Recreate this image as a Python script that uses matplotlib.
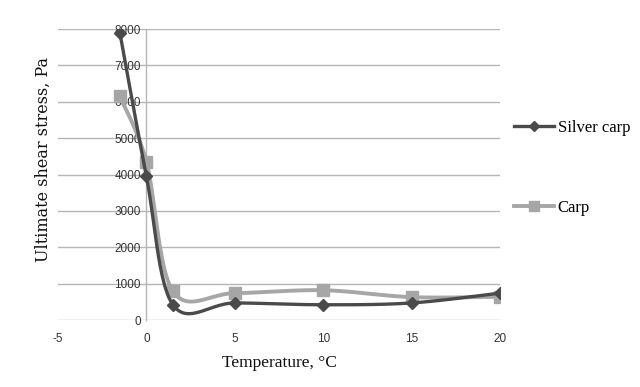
import matplotlib
matplotlib.use('Agg')

import matplotlib.pyplot as plt
import numpy as np

# data
temps_silver = [-1.5, 0, 1.5, 5, 10, 15, 20]
silver_carp = [7900, 3950, 420, 470, 420, 470, 740]

temps_carp = [-1.5, 0, 1.5, 5, 10, 15, 20]
carp = [6150, 4350, 790, 740, 820, 630, 640]

yticks = [0, 1000, 2000, 3000, 4000, 5000, 6000, 7000, 8000]
xticks = [-5, 0, 5, 10, 15, 20]


def smooth(xs, ys, n=30):
    # Excel style smoothed line (bezier through the points)
    p = np.column_stack([xs, ys]).astype(float)
    p = np.vstack([p[0], p, p[-1]])
    out = []
    for i in range(1, len(p) - 2):
        p0, p1, p2, p3 = p[i - 1], p[i], p[i + 1], p[i + 2]
        c1 = p1 + (p2 - p0) / 6
        c2 = p2 - (p3 - p1) / 6
        t = np.linspace(0, 1, n)[:, None]
        seg = (1 - t) ** 3 * p1 + 3 * (1 - t) ** 2 * t * c1 + 3 * (1 - t) * t ** 2 * c2 + t ** 3 * p2
        out.append(seg if i == 1 else seg[1:])
    out = np.vstack(out)
    return out[:, 0], out[:, 1]


serif = ['Liberation Serif', 'DejaVu Serif']
tickfont = ['Liberation Sans Narrow', 'Liberation Sans', 'DejaVu Sans']

fig = plt.figure(figsize=(6.4, 3.87), dpi=100)
ax = fig.add_axes([0.0906, 0.173, 0.6906, 0.752])

# value axis crosses at x = 0 (set before tick labels, it resets the ticks)
for s in ['top', 'right', 'bottom']:
    ax.spines[s].set_visible(False)
ax.spines['left'].set_position(('data', 0))
ax.spines['left'].set_color('#b5b5b5')
ax.spines['left'].set_linewidth(1.0)

dark = '#4a4a4a'
light = '#a6a6a6'

sx, sy = smooth(temps_carp, carp)
ax.plot(sx, sy, color=light, lw=2.8, zorder=3)
ax.plot(temps_carp, carp, ls='none', marker='s', ms=8, color=light, zorder=4)

sx, sy = smooth(temps_silver, silver_carp)
ax.plot(sx, sy, color=dark, lw=2.4, zorder=5)
ax.plot(temps_silver, silver_carp, ls='none', marker='D', ms=6.5, color=dark, zorder=6)

ax.set_xlim(-5, 20)
ax.set_ylim(0, 8000)
ax.set_xticks(xticks)
ax.set_yticks(yticks)
ax.set_xticklabels([str(v) for v in xticks], family=tickfont, fontsize=8.5, color='#333333')
ax.set_yticklabels([str(v) for v in yticks], family=tickfont, fontsize=8.5, color='#333333')
ax.tick_params(length=0, pad=4)
ax.tick_params(axis='x', pad=9)

ax.grid(axis='y', color='#b5b5b5', lw=1.0)
ax.set_axisbelow(True)

ax.set_xlabel('Temperature, °C', family=serif, fontsize=12.5, color='#111111')
ax.xaxis.set_label_coords(0.5, -0.12)
ax.set_ylabel('Ultimate shear stress, Pa', family=['DejaVu Serif'], fontsize=11.5, color='#111111')
ax.yaxis.set_label_coords(-0.014, 0.55)

# legend entries, placed separately like the original
h1, = ax.plot([], [], color=dark, lw=2.4, marker='D', ms=5)
h2, = ax.plot([], [], color=light, lw=2.8, marker='s', ms=7)
leg1 = fig.legend([h1], ['Silver carp'], loc='center left', bbox_to_anchor=(0.78, 1 - 128 / 387),
                  frameon=False, prop={'family': serif, 'size': 12}, handlelength=2.4,
                  handletextpad=0.2)
leg2 = fig.legend([h2], ['Carp'], loc='center left', bbox_to_anchor=(0.78, 1 - 208 / 387),
                  frameon=False, prop={'family': serif, 'size': 12}, handlelength=2.4,
                  handletextpad=0.2)

fig.savefig('out.png', dpi=100)
